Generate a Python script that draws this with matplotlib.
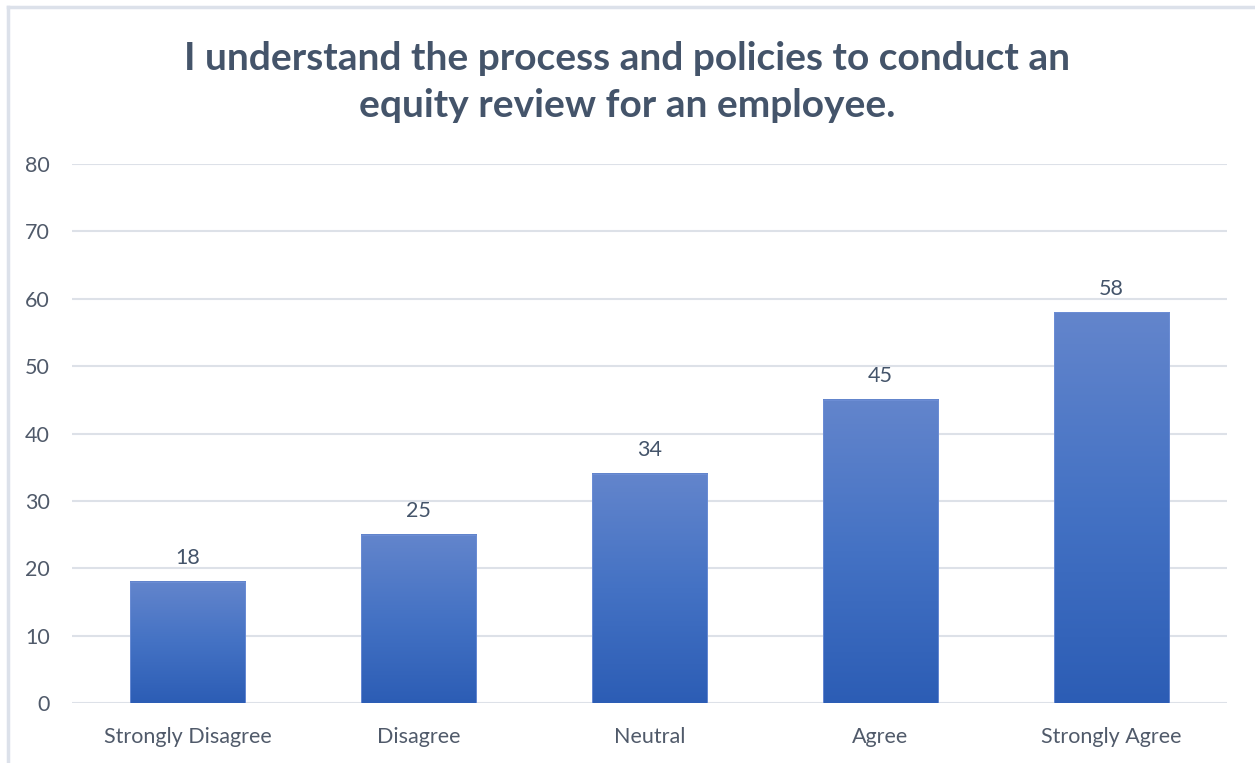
import numpy as np
import matplotlib.pyplot as plt
from matplotlib.lines import Line2D
from matplotlib.colors import LinearSegmentedColormap

categories = ["Strongly Disagree", "Disagree", "Neutral", "Agree", "Strongly Agree"]
values = [18, 25, 34, 45, 58]
y_ticks = [0, 10, 20, 30, 40, 50, 60, 70, 80]

title = "I understand the process and policies to conduct an\nequity review for an employee."

plt.rcParams['font.family'] = ['Lato', 'DejaVu Sans']

fig = plt.figure(figsize=(12.55, 7.63), dpi=100)
ax = fig.add_axes([72 / 1255, 60 / 763, 1155 / 1255, 539 / 763])

x = np.arange(len(categories))
width = 0.5

# bars drawn invisibly, then filled with a vertical gradient
bars = ax.bar(x, values, width=width, color='none', edgecolor='#6E8FD6', linewidth=0.6, zorder=3)
grad_cmap = LinearSegmentedColormap.from_list('g', ['#2C5DB5', '#4472C4', '#6385CC'])
grad = np.linspace(0, 1, 256).reshape(-1, 1)
for b in bars:
    x0, w, h = b.get_x(), b.get_width(), b.get_height()
    ax.imshow(grad, extent=[x0, x0 + w, 0, h], origin='lower', cmap=grad_cmap,
              aspect='auto', zorder=2)
    ax.text(x0 + w / 2, h + 2.0, f"{h:g}", ha='center', va='bottom',
            fontsize=15.5, color='#44546A')

ax.set_xlim(-0.5, len(categories) - 0.5)
ax.set_ylim(0, 80)
ax.set_yticks(y_ticks)
ax.set_xticks(x)
ax.set_xticklabels(categories)
ax.tick_params(axis='both', length=0, labelsize=15.5, labelcolor='#505A6A')
ax.tick_params(axis='y', pad=16)
ax.tick_params(axis='x', pad=17)
ax.grid(axis='y', color='#DDE1E8', linewidth=1.5, zorder=0)
ax.set_axisbelow(True)
for s in ax.spines.values():
    s.set_visible(False)

fig.text(0.5, 1 - 82 / 763, title, ha='center', va='center', fontsize=28,
         fontweight='bold', color='#44546A', linespacing=1.38)

# light chart border (top and left)
fig.add_artist(Line2D([8 / 1255, 1], [1 - 7 / 763, 1 - 7 / 763], transform=fig.transFigure,
                      color='#DCE1EA', linewidth=2.5))
fig.add_artist(Line2D([8 / 1255, 8 / 1255], [0, 1 - 7 / 763], transform=fig.transFigure,
                      color='#DCE1EA', linewidth=2.5))

fig.savefig("out.png", dpi=100)
